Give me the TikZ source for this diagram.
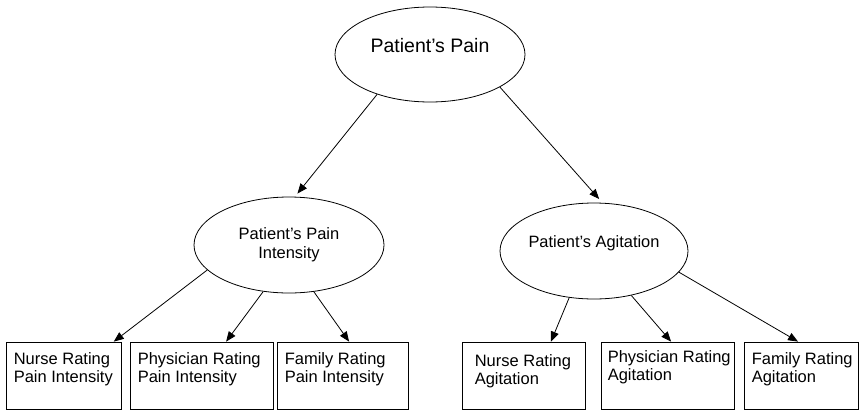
\documentclass[tikz,border=0pt]{standalone}
\usepackage{fontspec}
\setmainfont{Liberation Sans}
\usetikzlibrary{arrows.meta,shapes.geometric,positioning}

\begin{document}
\begin{tikzpicture}[x=1pt,y=-1pt,
    oval/.style={draw, ellipse, line width=0.8pt, inner sep=0pt},
    rating/.style={draw, rectangle, line width=0.8pt, minimum height=67pt, inner sep=0pt},
    txt/.style={inner sep=0pt, align=left, anchor=north west, font=\fontsize{16.5}{18}\selectfont},
    link/.style={->, line width=0.8pt},
    >={Triangle[length=10pt,width=8pt]}
]
\useasboundingbox (0,0) rectangle (859,410);

% latent nodes
\node[oval, minimum width=190pt, minimum height=95pt, font=\fontsize{19.5}{22}\selectfont,
      text height=14pt, text depth=19pt] (pain) at (430,54.5) {Patient's Pain};
\node[oval, minimum width=190pt, minimum height=96pt, align=center,
      font=\fontsize{16.5}{19}\selectfont] (intensity) at (289,245) {Patient's Pain\\Intensity};
\node[oval, minimum width=188pt, minimum height=96pt, font=\fontsize{16.4}{19}\selectfont,
      text height=12pt, text depth=20pt] (agitation) at (594,251) {Patient's Agitation};

% rating boxes
\node[rating, minimum width=115pt] (nrpi) at (63.5,375.5) {};
\node[rating, minimum width=143pt] (prpi) at (201.5,375.5) {};
\node[rating, minimum width=131pt] (frpi) at (342.5,375.5) {};
\node[rating, minimum width=123pt] (nra) at (523.5,375.5) {};
\node[rating, minimum width=133pt] (pra) at (667.5,375.5) {};
\node[rating, minimum width=114pt] (fra) at (801,375.5) {};

\node[txt] (nrpit) at ([shift={(8,11)}]nrpi.north west) {Nurse Rating\\Pain Intensity};
\node[txt] (prpit) at ([shift={(8,11)}]prpi.north west) {Physician Rating\\Pain Intensity};
\node[txt] (frpit) at ([shift={(8,11)}]frpi.north west) {Family Rating\\Pain Intensity};
\node[txt] (nrat) at ([shift={(13,13)}]nra.north west) {Nurse Rating\\Agitation};
\node[txt] (prat) at ([shift={(7,9)}]pra.north west) {Physician Rating\\Agitation};
\node[txt] (frat) at ([shift={(8,11)}]fra.north west) {Family Rating\\Agitation};

\draw[link, shorten >=4pt] (pain.217) -- (intensity.83);
\draw[link, shorten >=5pt] (pain.335) -- (agitation.80);

\draw[link] (intensity.197) -- (nrpi.34);
\draw[link] (intensity.241) -- (prpi.54);
\draw[link] (intensity.298) -- (frpi.79);

\draw[link] (agitation.242) -- (nra.51);
\draw[link] (agitation.310) -- (pra.84);
\draw[link] (agitation.346) -- (fra.95);
\end{tikzpicture}
\end{document}
